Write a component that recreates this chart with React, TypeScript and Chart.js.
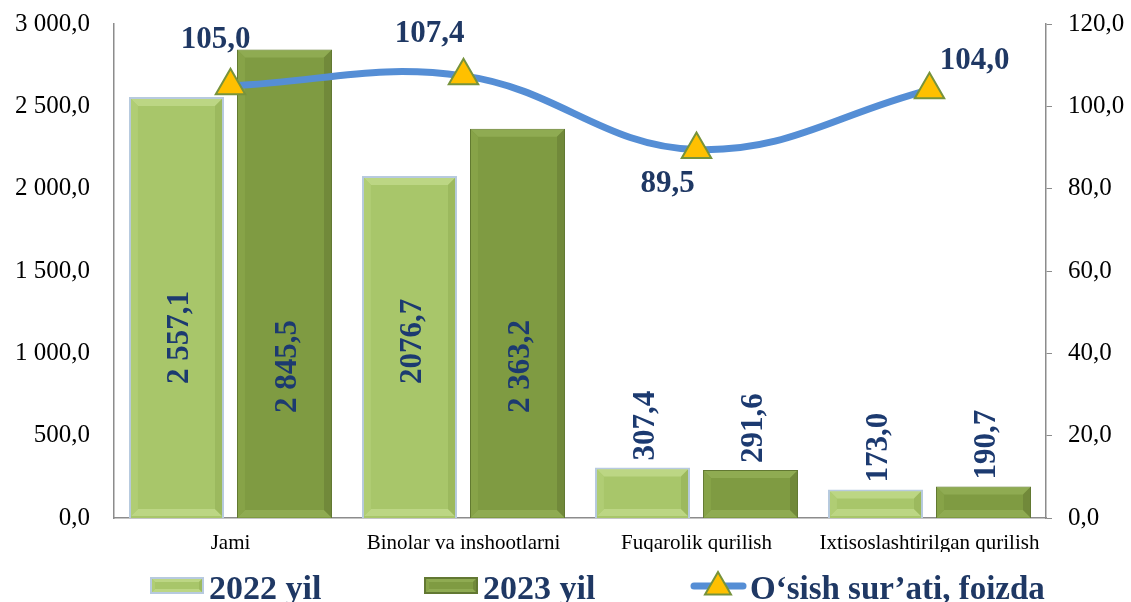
import React, { useEffect, useRef } from "react";
import { Chart, registerables } from "chart.js";

Chart.register(...registerables);

const categories = ["Jami", "Binolar va inshootlarni", "Fuqarolik qurilish", "Ixtisoslashtirilgan qurilish"];
const values2022 = [2557.1, 2076.7, 307.4, 173.0];
const values2023 = [2845.5, 2363.2, 291.6, 190.7];
const growth = [105.0, 107.4, 89.5, 104.0];
const labels2022 = ["2 557,1", "2076,7", "307,4", "173,0"];
const labels2023 = ["2 845,5", "2 363,2", "291,6", "190,7"];
const growthLabels = ["105,0", "107,4", "89,5", "104,0"];
const seriesNames = ["2022 yil", "2023 yil", "O\u2018sish sur\u2019ati, foizda"];

const leftMax = 3000;
const leftStep = 500;
const rightMax = 120;
const rightStep = 20;

// label offsets (style only)
const growthLabelOffsets = [[-15, -46], [-34, -42], [-29, 34], [45, -29]];

const SERIF = "'Liberation Serif', 'Times New Roman', serif";
const NAVY = "#1F3864";
const BAR_NAVY = "#1C3A70";

const pal = [
  { main: "#A8C66A", light: "#BCD684", dark: "#9CB95E", side: "#B0CD74", border: "#B7CADF", bw: 2 },
  { main: "#7F9B42", light: "#8FAB52", dark: "#71893A", side: "#87A348", border: "#627832", bw: 1 },
];

function fmt(v: number): string {
  const [i, d] = v.toFixed(1).split(".");
  return i.replace(/\B(?=(\d{3})+(?!\d))/g, " ") + "," + d;
}

function bevelRect(ctx: CanvasRenderingContext2D, l: number, t: number, r: number, b: number, bv: number, p: any) {
  const poly = (pts: number[][], c: string) => {
    ctx.beginPath();
    ctx.moveTo(pts[0][0], pts[0][1]);
    for (let i = 1; i < pts.length; i++) ctx.lineTo(pts[i][0], pts[i][1]);
    ctx.closePath();
    ctx.fillStyle = c;
    ctx.fill();
  };
  poly([[l, t], [r, t], [r - bv, t + bv], [l + bv, t + bv]], p.light);
  poly([[l, b], [r, b], [r - bv, b - bv], [l + bv, b - bv]], p.light);
  poly([[l, t], [l + bv, t + bv], [l + bv, b - bv], [l, b]], p.side);
  poly([[r, t], [r - bv, t + bv], [r - bv, b - bv], [r, b]], p.dark);
}

const bevelPlugin = {
  id: "bevel",
  afterDatasetDraw(chart: any, args: any) {
    const ds = chart.data.datasets[args.index];
    if (ds.type !== "bar") return;
    const p = pal[args.index];
    if (!p) return;
    const ctx = chart.ctx;
    ctx.save();
    args.meta.data.forEach((el: any) => {
      const { x, y, base, width } = el.getProps(["x", "y", "base", "width"], true);
      const inset = p.bw;
      const l = x - width / 2 + inset, r = x + width / 2 - inset;
      const t = y + inset, b = base - inset;
      const bv = Math.min(7, (b - t) / 2, (r - l) / 2);
      bevelRect(ctx, l, t, r, b, bv, p);
    });
    ctx.restore();
  },
};

const labelsPlugin = {
  id: "valueLabels",
  afterDatasetsDraw(chart: any) {
    const ctx = chart.ctx;
    ctx.save();
    [labels2022, labels2023].forEach((labs, di) => {
      const meta = chart.getDatasetMeta(di);
      const vals = di === 0 ? values2022 : values2023;
      meta.data.forEach((el: any, i: number) => {
        const { x, y, base } = el.getProps(["x", "y", "base"], true);
        let startY: number;
        if (vals[i] > 1000) startY = base - (di === 0 ? 134 : 105);
        else startY = y - 7;
        ctx.save();
        ctx.translate(x + 3, startY);
        ctx.rotate(-Math.PI / 2);
        ctx.font = `bold 31px ${SERIF}`;
        ctx.fillStyle = BAR_NAVY;
        ctx.textAlign = "left";
        ctx.textBaseline = "middle";
        ctx.fillText(labs[i], 0, 0);
        ctx.restore();
      });
    });
    const lm = chart.getDatasetMeta(2);
    lm.data.forEach((el: any, i: number) => {
      const [dx, dy] = growthLabelOffsets[i];
      ctx.font = `bold 31px ${SERIF}`;
      ctx.fillStyle = NAVY;
      ctx.textAlign = "center";
      ctx.textBaseline = "middle";
      ctx.fillText(growthLabels[i], el.x + dx, el.y + dy);
    });
    ctx.restore();
  },
};

const legendPlugin = {
  id: "customLegend",
  afterDraw(chart: any) {
    const ctx = chart.ctx;
    ctx.save();
    const boxY = 577, boxH = 17;
    const items = [
      { x: 150, w: 54, p: pal[0] },
      { x: 424, w: 54, p: pal[1] },
    ];
    items.forEach((it, i) => {
      ctx.fillStyle = it.p.border;
      ctx.fillRect(it.x, boxY, it.w, boxH);
      ctx.fillStyle = it.p.main;
      ctx.fillRect(it.x + 2, boxY + 2, it.w - 4, boxH - 4);
      bevelRect(ctx, it.x + 2, boxY + 2, it.x + it.w - 2, boxY + boxH - 2, 3, it.p);
      ctx.font = `bold 34px ${SERIF}`;
      ctx.fillStyle = NAVY;
      ctx.textAlign = "left";
      ctx.textBaseline = "alphabetic";
      ctx.fillText(seriesNames[i], it.x + it.w + 5, 599);
    });
    const ly = 586;
    ctx.strokeStyle = "#558ED5";
    ctx.lineWidth = 7;
    ctx.lineCap = "round";
    ctx.beginPath();
    ctx.moveTo(694, ly);
    ctx.lineTo(743, ly);
    ctx.stroke();
    const r = 15, cx = 718, cy = ly + 1;
    ctx.beginPath();
    ctx.moveTo(cx, cy - r);
    ctx.lineTo(cx + Math.sin((2 * Math.PI) / 3) * r, cy - Math.cos((2 * Math.PI) / 3) * r);
    ctx.lineTo(cx + Math.sin((4 * Math.PI) / 3) * r, cy - Math.cos((4 * Math.PI) / 3) * r);
    ctx.closePath();
    ctx.fillStyle = "#FFC000";
    ctx.fill();
    ctx.lineWidth = 2;
    ctx.strokeStyle = "#77933C";
    ctx.stroke();
    ctx.font = `bold 33px ${SERIF}`;
    ctx.fillStyle = NAVY;
    ctx.textAlign = "left";
    ctx.fillText(seriesNames[2], 750, 599);
    ctx.restore();
  },
};

export default function App() {
  const ref = useRef<HTMLCanvasElement | null>(null);
  useEffect(() => {
    if (!ref.current) return;
    const chart = new Chart(ref.current, {
      type: "bar",
      data: {
        labels: categories,
        datasets: [
          {
            type: "bar",
            label: seriesNames[0],
            data: values2022,
            yAxisID: "y",
            backgroundColor: pal[0].main,
            borderColor: pal[0].border,
            borderWidth: pal[0].bw,
            categoryPercentage: 0.927,
            barPercentage: 0.88,
            order: 1,
          },
          {
            type: "bar",
            label: seriesNames[1],
            data: values2023,
            yAxisID: "y",
            backgroundColor: pal[1].main,
            borderColor: pal[1].border,
            borderWidth: pal[1].bw,
            categoryPercentage: 0.927,
            barPercentage: 0.88,
            order: 1,
          },
          {
            type: "line",
            label: seriesNames[2],
            data: growth,
            yAxisID: "y1",
            borderColor: "#558ED5",
            borderWidth: 7,
            borderCapStyle: "round",
            tension: 0.4,
            pointStyle: "triangle",
            pointRadius: 17,
            pointBackgroundColor: "#FFC000",
            pointBorderColor: "#77933C",
            pointBorderWidth: 2,
            clip: false,
            order: 0,
          } as any,
        ],
      },
      options: {
        responsive: false,
        animation: false,
        layout: { autoPadding: false, padding: { top: 24, bottom: 50, left: 0, right: 0 } },
        plugins: { legend: { display: false }, tooltip: { enabled: false } },
        scales: {
          x: {
            grid: { display: false, drawTicks: false },
            border: { display: true, color: "#8C8C8C", width: 1.5 },
            ticks: { font: { family: SERIF, size: 21 }, color: "#000", padding: 13, maxRotation: 0, autoSkip: false },
            afterFit: (s: any) => { s.height = 34; s.paddingLeft = 0; s.paddingRight = 0; },
          },
          y: {
            position: "left",
            min: 0,
            max: leftMax,
            ticks: { stepSize: leftStep, font: { family: SERIF, size: 25 }, color: "#000", padding: 24, callback: (v: any) => fmt(Number(v)) },
            grid: { display: false, drawTicks: false },
            border: { display: true, color: "#8C8C8C", width: 1.5 },
            afterFit: (s: any) => { s.width = 114; s.paddingTop = 0; s.paddingBottom = 0; },
          },
          y1: {
            position: "right",
            min: 0,
            max: rightMax,
            ticks: { stepSize: rightStep, font: { family: SERIF, size: 25 }, color: "#000", padding: 16, callback: (v: any) => fmt(Number(v)) },
            grid: { display: true, drawOnChartArea: false, drawTicks: true, tickLength: 6, color: "#8C8C8C" },
            border: { display: true, color: "#8C8C8C", width: 1.5 },
            afterFit: (s: any) => { s.width = 85; s.paddingTop = 0; s.paddingBottom = 0; },
          },
        },
      } as any,
      plugins: [bevelPlugin, labelsPlugin, legendPlugin],
    });
    return () => chart.destroy();
  }, []);
  return (
    <div style={{ position: "absolute", left: 0, top: 0, width: 1131, height: 602, background: "#fff" }}>
      <canvas ref={ref} width={1131} height={602} />
    </div>
  );
}
